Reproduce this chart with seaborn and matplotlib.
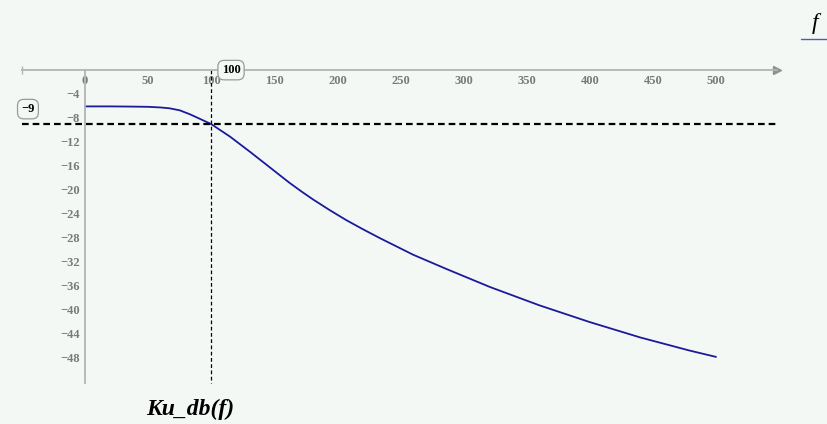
import matplotlib
matplotlib.use("Agg")
import matplotlib.pyplot as plt
import seaborn as sns
import pandas as pd

# values
freq = [0, 20, 36, 50, 60, 67, 75, 83, 91, 100, 115, 131, 147, 162, 172,
        181, 194, 207, 220, 234, 260, 287, 321, 360, 400, 440, 479, 500]
ku_db = [-6.15, -6.15, -6.18, -6.22, -6.33, -6.47, -6.8, -7.45, -8.22, -9.1,
         -11.2, -13.76, -16.4, -18.88, -20.4, -21.7, -23.45, -25.1, -26.6,
         -28.14, -30.87, -33.3, -36.26, -39.3, -42.1, -44.66, -46.84, -47.9]
x_ticks = [0, 50, 100, 150, 200, 250, 300, 350, 400, 450, 500]
y_ticks = [-4, -8, -12, -16, -20, -24, -28, -32, -36, -40, -44, -48]
marker_x = 100
marker_y = -9
x_range = (-50, 548)
y_bottom = -52.2

bg = "#f4f8f5"
axis_col = "#b4b4b4"
label_col = "#7a7a7a"

sns.set_style("white")
plt.rcParams['font.family'] = ['Liberation Serif', 'DejaVu Serif']

df = pd.DataFrame({"f": freq, "Ku_db": ku_db})

fig = plt.figure(figsize=(8.27, 4.24), dpi=100)
fig.patch.set_facecolor(bg)
ax = fig.add_axes([0, 0, 1, 1])
ax.set_facecolor(bg)

# pixel mapping: x=0 -> 85px, 1.262 px/unit ; y=0 -> 69.5px, 6 px/unit
ax.set_xlim(-85 / 1.262, (827 - 85) / 1.262)
ax.set_ylim(-(424 - 69.5) / 6, 69.5 / 6)

sns.lineplot(data=df, x="f", y="Ku_db", ax=ax, color="#1a1a9a", lw=1.3)

# marker lines
ax.plot(x_range, [marker_y, marker_y], color="black", lw=1.6, dashes=(3, 1.8))
ax.plot([marker_x, marker_x], [0, y_bottom], color="black", lw=0.9, dashes=(3, 2))

# Mathcad style axes through the origin
for s in ["right", "top"]:
    ax.spines[s].set_visible(False)
ax.spines["bottom"].set_position(("data", 0))
ax.spines["left"].set_position(("data", 0))
ax.spines["bottom"].set_bounds(*x_range)
ax.spines["left"].set_bounds(y_bottom, 0)
for s in ["bottom", "left"]:
    ax.spines[s].set_color(axis_col)
    ax.spines[s].set_linewidth(1.3)
ax.plot(x_range[1], 0, marker=">", color="#909090", ms=6, clip_on=False)
ax.plot(x_range[0], 0, marker="|", color=axis_col, ms=6)

ax.set_xticks(x_ticks)
ax.set_yticks(y_ticks)
ax.set_xticklabels([str(v) for v in x_ticks])
ax.set_yticklabels(["\u2212" + str(-v) for v in y_ticks])
ax.tick_params(axis="both", direction="inout", length=6, width=0.8,
               color=axis_col, labelcolor=label_col, labelsize=9, pad=1)
for t in ax.get_xticklabels() + ax.get_yticklabels():
    t.set_fontweight("bold")
ax.set_xlabel("")
ax.set_ylabel("")

box = dict(boxstyle="round,pad=0.3,rounding_size=0.5", fc=bg, ec="#9a9a9a", lw=0.9)
ax.text(-45.2, -6.6, "\u2212" + str(-marker_y), ha="center", va="center",
        fontsize=9, fontweight="bold", color="black", bbox=box)
ax.text(115.7, -0.1, str(marker_x), ha="center", va="center",
        fontsize=9, fontweight="bold", color="black", bbox=box)

fig.text(190 / 827, 1 - 409 / 424, "Ku_db(f)", ha="center", va="center",
         fontsize=17, style="italic", fontweight="bold", color="black")
fig.text(815 / 827, 1 - 23 / 424, "f", ha="center", va="center",
         fontsize=17, style="italic", color="black")
fig.add_artist(plt.Line2D([801 / 827, 1], [1 - 39 / 424, 1 - 39 / 424],
                          color="#5555bb", lw=1))

fig.savefig("out.png", dpi=100, facecolor=bg)
